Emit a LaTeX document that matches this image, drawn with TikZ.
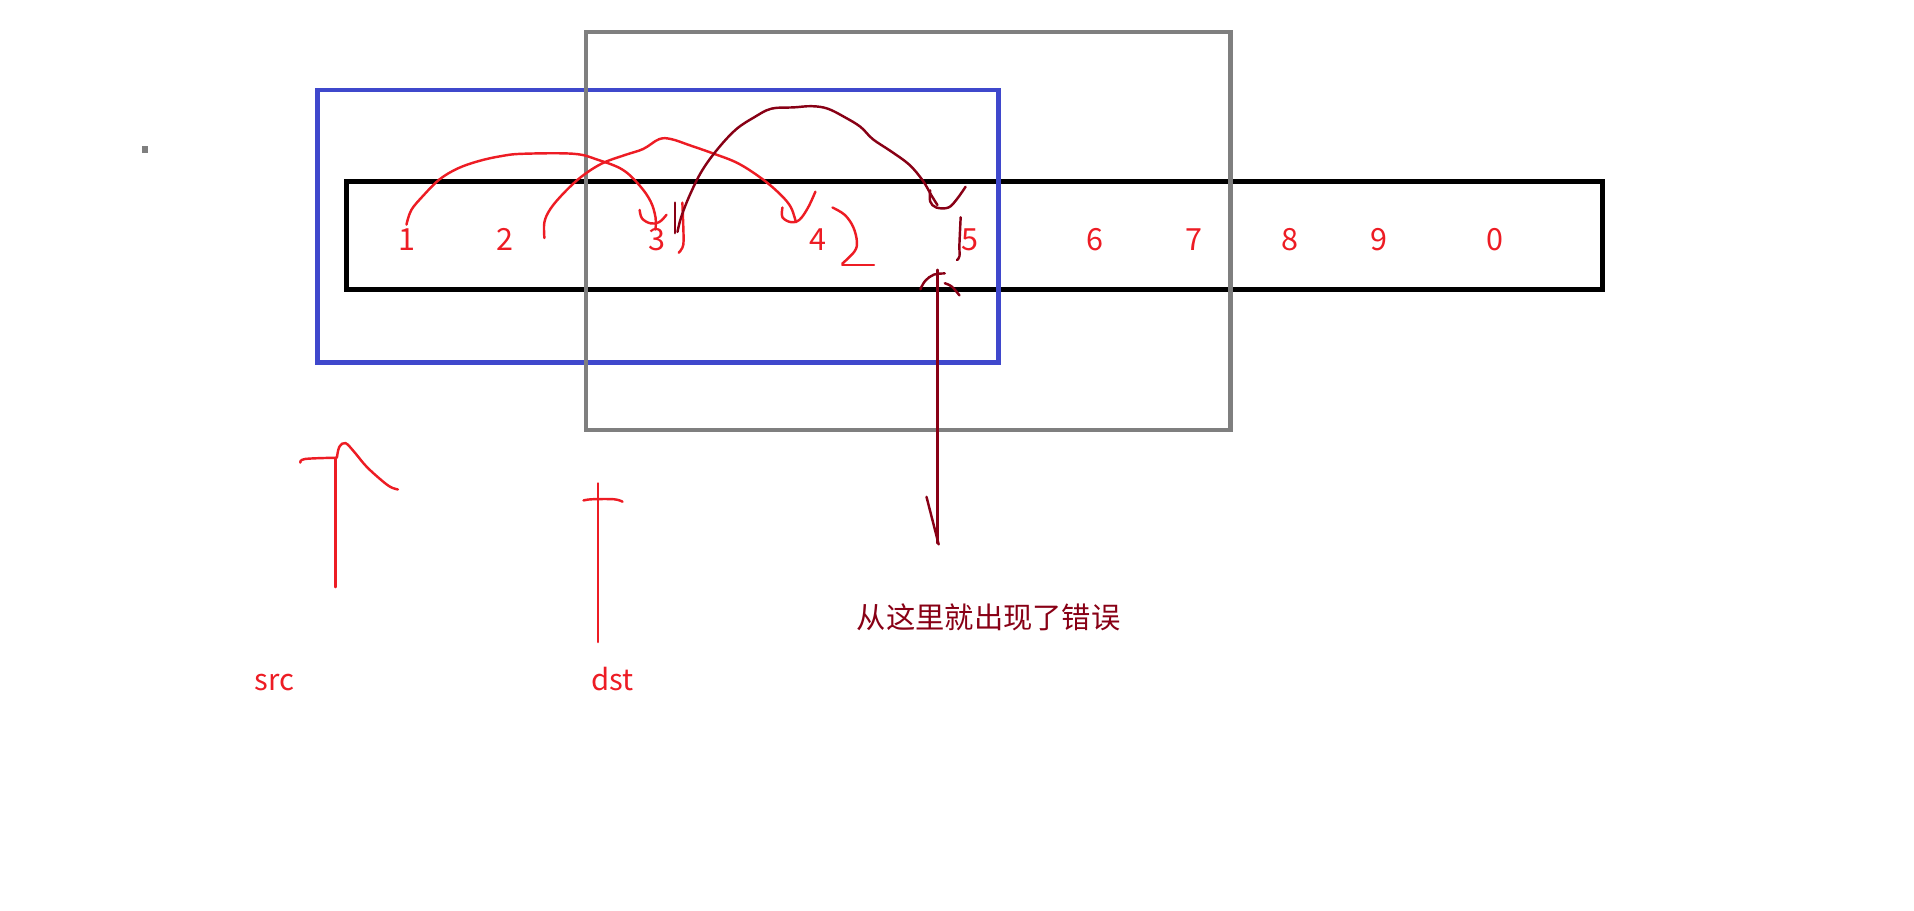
\documentclass[tikz,border=0pt]{standalone}
\usepackage{fontspec}
\setmainfont{Noto Sans CJK SC}
\definecolor{pred}{HTML}{ED1C24}
\definecolor{pdark}{HTML}{880015}
\definecolor{pblue}{HTML}{3F48CC}
\definecolor{pgray}{HTML}{7F7F7F}
\begin{document}
\begin{tikzpicture}[x=1pt,y=-1pt,
  digit/.style={text=pred,font=\fontsize{25}{28}\selectfont,anchor=base,inner sep=0pt},
  lbl/.style={text=pred,font=\fontsize{24}{28}\selectfont,anchor=base,inner sep=0pt},
  rstroke/.style={draw=pred,line width=2pt,line cap=round,line join=round},
  dstroke/.style={draw=pdark,line width=2pt,line cap=round,line join=round},
  box/.style={line width=3.5pt}]
\useasboundingbox (0,0) rectangle (1568,746);
% dot
\fill[pgray] (116,120) rectangle (121,125);
% boxes
\draw[box,black,line width=4pt] (284,149) rectangle (1313,237);
\draw[box,pblue] (260,74) rectangle (818,297);
\draw[box,pgray] (480,26) rectangle (1008,352);
% digits
\node[digit] (d1) at (333,205) {1};
\node[digit] (d2) at (414,205) {2};
\node[digit] (d3) at (538,205) {3};
\node[digit] (d4) at (670,205) {4};
\node[digit] (d5) at (795,205) {5};
\node[digit] (d6) at (897,205) {6};
\node[digit] (d7) at (978,205) {7};
\node[digit] (d8) at (1057,205) {8};
\node[digit] (d9) at (1130,205) {9};
\node[digit] (d0) at (1225,205) {0};
% labels
\node[lbl] (src) at (225,566) {src};
\node[lbl] (dst) at (502,566) {dst};
\node[text=pdark,font=\fontsize{24}{28}\selectfont,inner sep=0pt] (err) at (810,506) {从这里就出现了错误};
% red arcs
\draw[rstroke] plot[smooth,tension=0.6] coordinates {(333,184) (337,172) (347,160) (360,147) (375,138) (392,132) (410,128) (428,126) (470,126) (490,131) (510,139) (524,152) (533,165) (537,178) (537,188)};
\draw[rstroke] plot[smooth,tension=0.6] coordinates {(524,172) (526,179) (533,183) (540,182) (546,176)};
\draw[rstroke] plot[smooth,tension=0.6] coordinates {(446,195) (446,182) (451,171) (462,158) (476,145) (493,134) (512,127) (527,122) (540,114) (550,114) (565,119) (585,126) (605,134) (625,147) (640,160) (648,170) (652,182)};
\draw[rstroke] plot[smooth,tension=0.6] coordinates {(641,170) (641,178) (648,182) (655,180) (662,170) (668,157)};
\draw[rstroke] plot[smooth,tension=0.6] coordinates {(682,170) (692,176) (699,186) (702,198) (700,206) (690,216)};
\draw[rstroke] (690,217) -- (716,217);
\draw[rstroke] plot[smooth,tension=0.6] coordinates {(559,166) (560,195) (559,203) (556,207)};
% dark red arc
\draw[dstroke] plot[smooth,tension=0.6] coordinates {(555,190) (558,178) (565,160) (575,140) (588,122) (603,106) (618,96) (632,89) (650,88) (665,87) (678,89) (692,96) (705,104) (715,114) (730,124) (745,135) (756,148) (763,160) (768,168)};
\draw[dstroke] plot[smooth,tension=0.6] coordinates {(762,156) (762,165) (767,170) (777,170) (784,163) (791,153)};
\draw[dstroke] (553,166) -- (553,191);
\draw[dstroke] plot[smooth,tension=0.6] coordinates {(787,178) (786,200) (786,210) (784,213)};
% dark red arrow
\coordinate (etop) at (768,221);
\coordinate (ebot) at (768,445);
\draw[dstroke] (etop) -- (ebot);
\draw[dstroke] plot[smooth,tension=0.6] coordinates {(754,237) (758,230) (765,225) (774,224)};
\draw[dstroke] plot[smooth,tension=0.6] coordinates {(774,232) (780,235) (786,242)};
\draw[dstroke] (759,407) -- (769,446);
% src arrow
\coordinate (stop) at (275,375);
\coordinate (sbot) at (275,481);
\draw[rstroke] (stop) -- (sbot);
\draw[rstroke] plot[smooth,tension=0.6] coordinates {(246,379) (250,376) (275,375)};
\draw[rstroke] plot[smooth,tension=0.6] coordinates {(276,375) (278,366) (283,363) (290,370) (300,382) (312,393) (320,399) (326,401)};
% dst arrow
\coordinate (dtop) at (490,396);
\coordinate (dbot) at (490,526);
\draw[rstroke] (dtop) -- (dbot);
\draw[rstroke] plot[smooth,tension=0.6] coordinates {(478,410) (485,409) (503,409) (510,411)};
\end{tikzpicture}
\end{document}
